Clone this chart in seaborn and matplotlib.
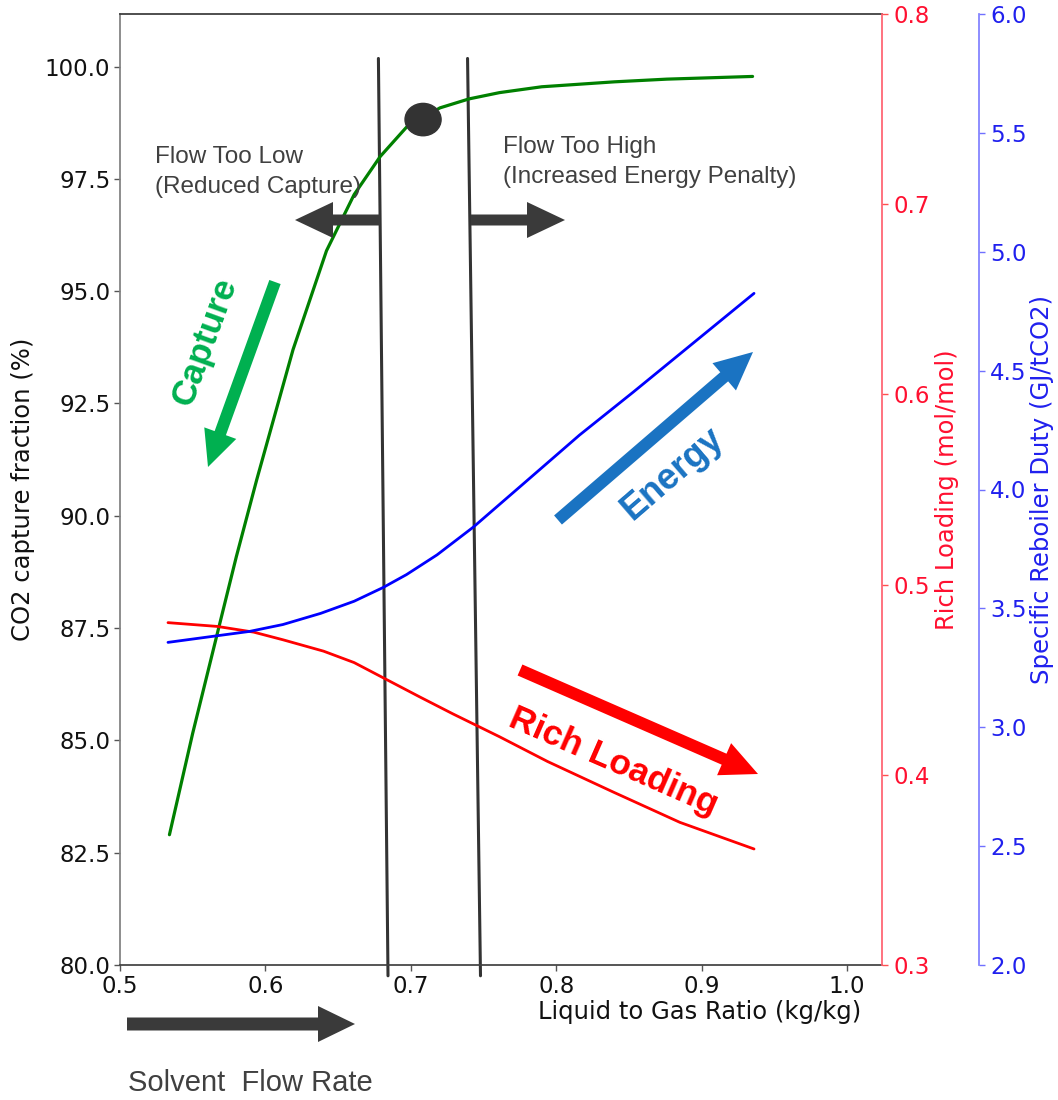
import numpy as np
import matplotlib
matplotlib.use("Agg")
import matplotlib.pyplot as plt
import seaborn as sns
from matplotlib.patches import FancyArrowPatch, Ellipse
from matplotlib.ticker import FormatStrFormatter

# ---- data -------------------------------------------------------------
capture_x = [0.534, 0.550, 0.567, 0.580, 0.594, 0.619, 0.642, 0.661,
             0.679, 0.697, 0.720, 0.740, 0.761, 0.790, 0.840, 0.876, 0.935]
capture_pct = [82.90, 85.16, 87.39, 89.09, 90.80, 93.70, 95.90, 97.15,
               98.00, 98.65, 99.08, 99.28, 99.42, 99.55, 99.66, 99.72, 99.78]

loading_x = [0.533, 0.567, 0.592, 0.612, 0.640, 0.661, 0.681, 0.706,
             0.729, 0.745, 0.761, 0.794, 0.839, 0.885, 0.936]
rich_loading = [0.480, 0.478, 0.475, 0.471, 0.465, 0.459, 0.451, 0.441,
                0.432, 0.426, 0.420, 0.407, 0.391, 0.375, 0.361]

duty_x = [0.533, 0.567, 0.589, 0.612, 0.638, 0.661, 0.681, 0.697,
          0.718, 0.743, 0.777, 0.816, 0.853, 0.894, 0.936]
reboiler_duty = [3.357, 3.385, 3.403, 3.432, 3.479, 3.530, 3.588, 3.642,
                 3.725, 3.842, 4.022, 4.229, 4.410, 4.615, 4.825]

# optimum operating point and the window around it
optimum_lg = 0.7084
optimum_capture = 98.82
window_low = [0.6777, 0.6843]     # top / bottom x of the left boundary
window_high = [0.7390, 0.7479]    # top / bottom x of the right boundary

x_ticks = [0.5, 0.6, 0.7, 0.8, 0.9, 1.0]
capture_ticks = [80.0, 82.5, 85.0, 87.5, 90.0, 92.5, 95.0, 97.5, 100.0]
loading_ticks = [0.3, 0.4, 0.5, 0.6, 0.7, 0.8]
duty_ticks = [2.0, 2.5, 3.0, 3.5, 4.0, 4.5, 5.0, 5.5, 6.0]

# ---- style ------------------------------------------------------------
sns.set_theme(style="ticks")
plt.rcParams["font.family"] = ["DejaVu Sans"]
ANNOT_FONT = ["Liberation Sans", "DejaVu Sans"]

W, H = 1058, 1100
fig = plt.figure(figsize=(W / 100, H / 100), dpi=100)
fig.patch.set_facecolor("white")


def fpx(x, y):
    """pixel position (from top-left) -> figure fraction"""
    return (x / W, 1 - y / H)


L, R, T, B = 120, 882, 14, 965
ax = fig.add_axes([L / W, 1 - B / H, (R - L) / W, (B - T) / H])
ax_load = ax.twinx()
ax_duty = ax.twinx()
ax_duty.spines["right"].set_position(("axes", (979 - L) / (R - L)))

GREEN, RED, BLUE = "#008000", "#ff0000", "#0000ff"

sns.lineplot(x=capture_x, y=capture_pct, ax=ax, color=GREEN, lw=2.3,
             estimator=None, sort=False)
sns.lineplot(x=loading_x, y=rich_loading, ax=ax_load, color=RED, lw=2.0,
             estimator=None, sort=False)
sns.lineplot(x=duty_x, y=reboiler_duty, ax=ax_duty, color=BLUE, lw=2.0,
             estimator=None, sort=False)

ax.set_xlim(0.5, 1.024)
ax.set_ylim(80, 101.17)
ax_load.set_ylim(0.3, 0.8)
ax_duty.set_ylim(2.0, 6.0)

ax.set_xticks(x_ticks)
ax.set_yticks(capture_ticks)
ax_load.set_yticks(loading_ticks)
ax_duty.set_yticks(duty_ticks)
ax.xaxis.set_major_formatter(FormatStrFormatter("%.1f"))
ax.yaxis.set_major_formatter(FormatStrFormatter("%.1f"))
ax_load.yaxis.set_major_formatter(FormatStrFormatter("%.1f"))
ax_duty.yaxis.set_major_formatter(FormatStrFormatter("%.1f"))

ax.tick_params(axis="both", labelsize=16.5, length=4, width=1,
               color="#555555", labelcolor="#111111", pad=3)
ax_load.tick_params(axis="y", labelsize=16.5, length=4, width=1,
                    color="#ff5050", labelcolor="#ff1030", pad=4)
ax_duty.tick_params(axis="y", labelsize=16.5, length=4, width=1,
                    color="#7070ff", labelcolor="#2020ee", pad=4)

for name in ["left", "top", "bottom"]:
    ax_load.spines[name].set_visible(False)
    ax_duty.spines[name].set_visible(False)
ax.spines["right"].set_visible(False)
ax.spines["left"].set_color("#808080")
ax.spines["bottom"].set_color("#404040")
ax.spines["top"].set_color("#404040")
ax.spines["top"].set_linewidth(1.3)
ax_load.spines["right"].set_color("#ff6070")
ax_duty.spines["right"].set_color("#8080ff")

ax.set_xlabel("Liquid to Gas Ratio (kg/kg)", fontsize=17.5, color="#111111",
              va="center")
ax.xaxis.set_label_coords((700 - L) / (R - L), -(1012 - B) / (B - T))
ax.set_ylabel("CO2 capture fraction (%)", fontsize=17.5, color="#111111",
              va="center")
ax.yaxis.set_label_coords((23 - L) / (R - L), 0.5)
ax_load.set_ylabel("Rich Loading (mol/mol)", fontsize=17.5, color="#ff1030",
                   va="center")
ax_load.yaxis.set_label_coords((947 - L) / (R - L), 0.5)
ax_duty.set_ylabel("Specific Reboiler Duty (GJ/tCO2)", fontsize=17.5,
                   color="#2020ee", va="center")
ax_duty.yaxis.set_label_coords((1042 - L) / (R - L), 0.5)

# optimum window boundaries
for xs in (window_low, window_high):
    ax.plot(xs, [100.18, 79.76], color="#333333", lw=2.2, clip_on=False,
            zorder=1)

# optimum point
ax.add_patch(Ellipse((optimum_lg, optimum_capture), width=0.0248,
                     height=0.72, color="#333333", zorder=3))


def fig_arrow(p0, p1, color, tail, head_w, head_l):
    arr = FancyArrowPatch(
        posA=fpx(*p0), posB=fpx(*p1), transform=fig.transFigure,
        arrowstyle=f"simple,head_length={head_l * 0.72},"
                   f"head_width={head_w * 0.72},tail_width={tail * 0.72}",
        mutation_scale=1, color=color, shrinkA=0, shrinkB=0, lw=0)
    fig.add_artist(arr)


GREY = "#3a3a3a"
fig_arrow((380, 220), (295, 220), GREY, 11, 36, 38)
fig_arrow((471, 220), (565, 220), GREY, 11, 36, 38)
fig_arrow((127, 1024), (355, 1024), GREY, 13, 36, 37)

fig_arrow((275, 282), (208, 467), "#00b050", 12, 34, 36)
fig_arrow((558, 520), (753, 352), "#1a73c2", 12, 36, 38)
fig_arrow((520, 670), (758, 774), "#ff0000", 12, 35, 37)

TXT = "#404040"
fig.text(*fpx(155, 157), "Flow Too Low", fontsize=17.5, color=TXT,
         family=ANNOT_FONT, va="center", ha="left")
fig.text(*fpx(155, 187), "(Reduced Capture)", fontsize=17.5, color=TXT,
         family=ANNOT_FONT, va="center", ha="left")
fig.text(*fpx(503, 147), "Flow Too High", fontsize=17.5, color=TXT,
         family=ANNOT_FONT, va="center", ha="left")
fig.text(*fpx(503, 177), "(Increased Energy Penalty)", fontsize=17.5,
         color=TXT, family=ANNOT_FONT, va="center", ha="left")
fig.text(*fpx(128, 1083), "Solvent  Flow Rate", fontsize=21, color=TXT,
         family=ANNOT_FONT, va="center", ha="left")

fig.text(*fpx(205, 342), "Capture", fontsize=25.5, fontweight="bold",
         color="#00b050", family=ANNOT_FONT, rotation=70,
         rotation_mode="anchor", ha="center", va="center")
fig.text(*fpx(673, 474), "Energy", fontsize=26, fontweight="bold",
         color="#1a73c2", family=ANNOT_FONT, rotation=40.8,
         rotation_mode="anchor", ha="center", va="center")
fig.text(*fpx(613, 762), "Rich Loading", fontsize=25.5, fontweight="bold",
         color="#ff0000", family=ANNOT_FONT, rotation=-23.6,
         rotation_mode="anchor", ha="center", va="center")

fig.savefig("out.png", dpi=100, facecolor="white")
